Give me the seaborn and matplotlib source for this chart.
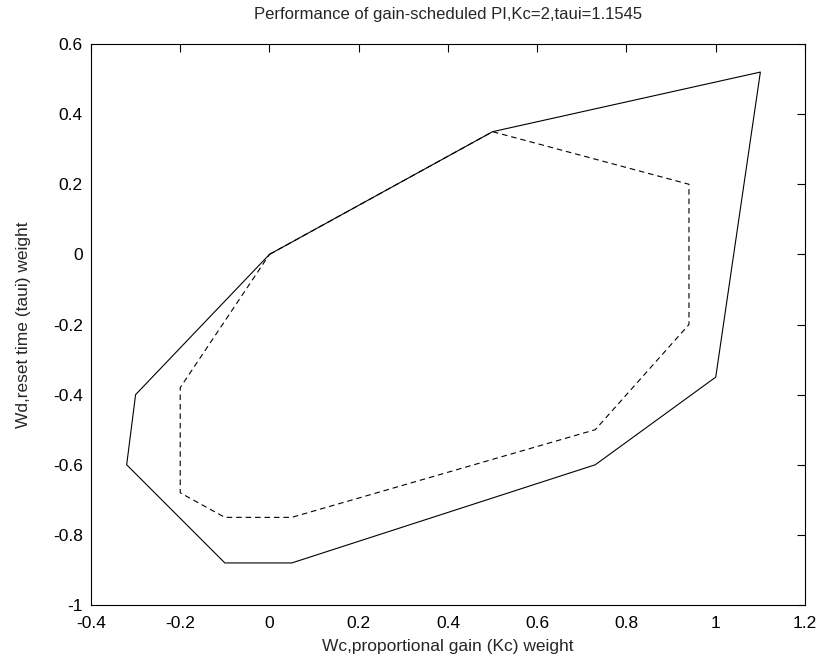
import numpy as np
import pandas as pd
import seaborn as sns
import matplotlib
matplotlib.use("Agg")
import matplotlib.pyplot as plt

# outer (solid) boundary
outer_wc = [0, 0.5, 1.1, 1.0, 0.73, 0.05, -0.1, -0.32, -0.3, 0]
outer_wd = [0, 0.35, 0.52, -0.35, -0.6, -0.88, -0.88, -0.6, -0.4, 0]

# inner (dashed) boundary
inner_wc = [0, 0.5, 0.94, 0.94, 0.73, 0.05, -0.1, -0.2, -0.2, 0]
inner_wd = [0, 0.35, 0.2, -0.2, -0.5, -0.75, -0.75, -0.68, -0.38, 0]

x_ticks = [-0.4, -0.2, 0, 0.2, 0.4, 0.6, 0.8, 1, 1.2]
y_ticks = [-1, -0.8, -0.6, -0.4, -0.2, 0, 0.2, 0.4, 0.6]

sns.set_style("white")
plt.rcParams['font.family'] = ['Liberation Sans', 'DejaVu Sans']

fig = plt.figure(figsize=(8.21, 6.65), dpi=100)
ax = fig.add_axes([0.1108, 0.0902, 0.8697, 0.8436])

sns.lineplot(x=outer_wc, y=outer_wd, sort=False, estimator=None,
             color='black', linewidth=0.8, ax=ax)
sns.lineplot(x=inner_wc, y=inner_wd, sort=False, estimator=None,
             color='black', linewidth=0.8, ax=ax)
ax.lines[1].set_dashes([5, 3.5])

ax.set_xlim(-0.4, 1.2)
ax.set_ylim(-1, 0.6)
ax.set_xticks(x_ticks)
ax.set_yticks(y_ticks)
ax.set_xticklabels([f"{t:g}" for t in x_ticks])
ax.set_yticklabels([f"{t:g}" for t in y_ticks])
ax.tick_params(direction='in', length=6, width=0.8, top=True, right=True,
               labelsize=12.5, colors='black')
ax.tick_params(axis='x', pad=8)
ax.tick_params(axis='y', pad=6)
for s in ax.spines.values():
    s.set_color('black')
    s.set_linewidth(0.8)

ax.set_title('Performance of gain-scheduled PI,Kc=2,taui=1.1545',
             fontsize=12, pad=18)
ax.set_xlabel('Wc,proportional gain (Kc) weight', fontsize=12.5, labelpad=6)
ax.set_ylabel('Wd,reset time (taui) weight', fontsize=12.5, labelpad=16)

fig.savefig('out.png', dpi=100)
